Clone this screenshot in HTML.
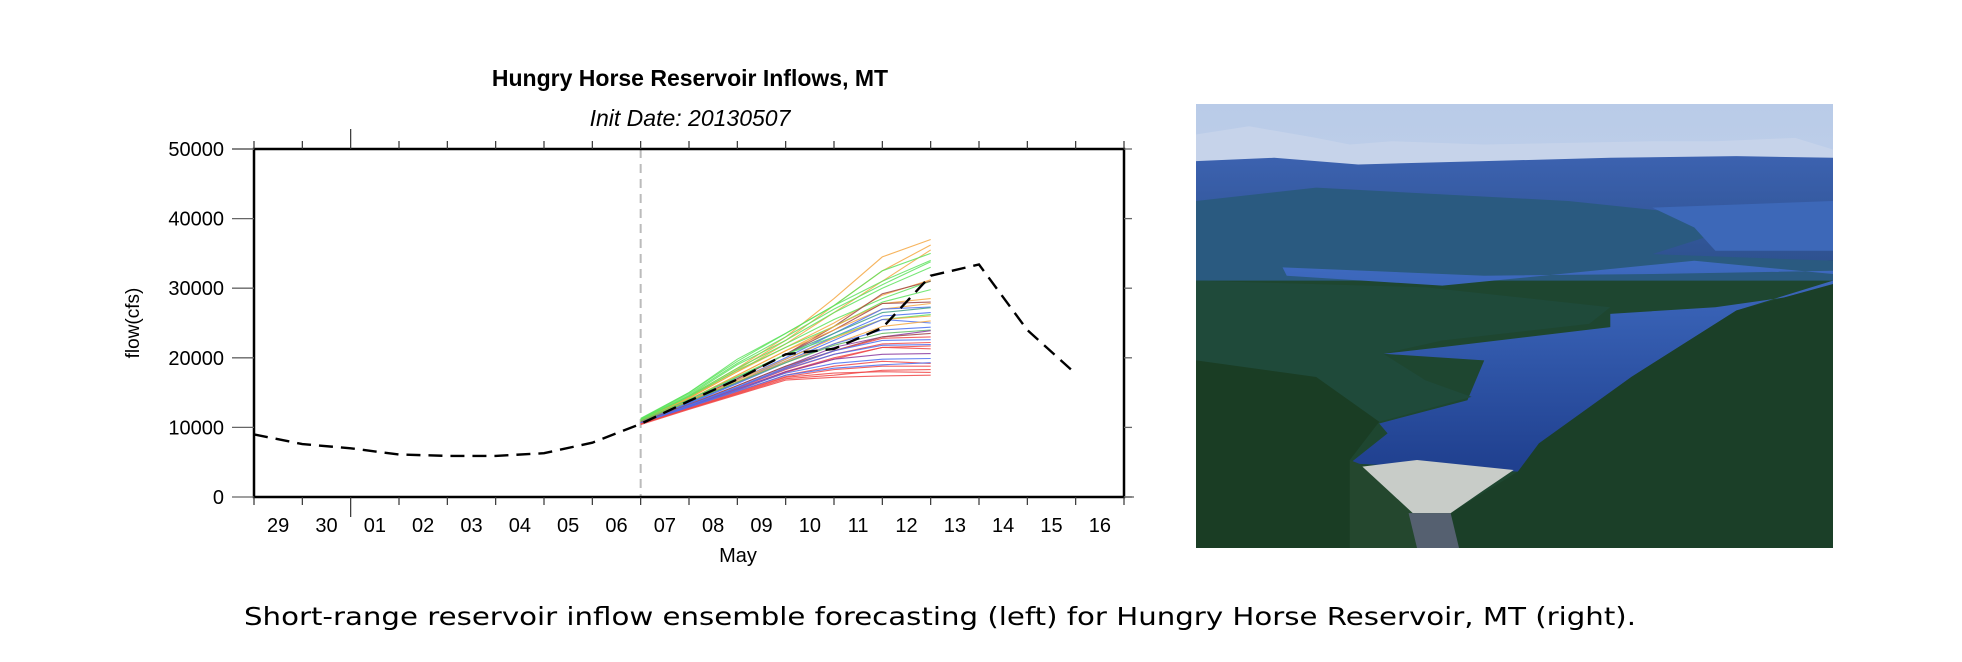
<!DOCTYPE html>
<html><head><meta charset="utf-8">
<style>
html,body{margin:0;padding:0;background:#fff;width:1962px;height:662px;overflow:hidden}
svg{position:absolute;left:0;top:0}
text{font-family:"Liberation Sans",sans-serif}
</style></head>
<body>
<svg id="chart" width="1962" height="662">
  <text x="690" y="86" text-anchor="middle" font-size="23" font-weight="bold">Hungry Horse Reservoir Inflows, MT</text>
  <text x="690" y="126" text-anchor="middle" font-size="23" font-style="italic">Init Date: 20130507</text>
  <text transform="translate(139,323) rotate(-90)" text-anchor="middle" font-size="19">flow(cfs)</text>
  <text x="738" y="562" text-anchor="middle" font-size="20">May</text>
  <g id="grid"></g>
  <g id="ens"></g>
  <g id="obs"></g>
  <g id="axes"></g>
  <text x="940" y="625" text-anchor="middle" font-size="25" textLength="1392" lengthAdjust="spacingAndGlyphs" style="font-family:'DejaVu Sans',sans-serif">Short-range reservoir inflow ensemble forecasting (left) for Hungry Horse Reservoir, MT (right).</text>
</svg>

<svg width="637" height="444" style="left:1196px;top:104px" viewBox="14 28 1516 1337" preserveAspectRatio="none">
  <defs>
    <linearGradient id="sky" x1="0" y1="0" x2="0" y2="1"><stop offset="0" stop-color="#b9cbe8"/><stop offset="1" stop-color="#d8e2f0"/></linearGradient>
    <linearGradient id="far" x1="0" y1="0" x2="0" y2="1"><stop offset="0" stop-color="#3c62b0"/><stop offset="1" stop-color="#2c4f8a"/></linearGradient>
    <linearGradient id="lake" x1="0" y1="0" x2="0" y2="1"><stop offset="0" stop-color="#3f6bc0"/><stop offset="1" stop-color="#1f3f8e"/></linearGradient>
  </defs>
  <rect x="14" y="28" width="1516" height="1337" fill="url(#sky)"/>
  <path d="M14 120 L140 95 L300 130 L380 150 L480 140 L700 150 L900 145 L1100 140 L1250 140 L1440 130 L1530 165 L1530 330 L14 330Z" fill="#c6d3ea"/>
  <path d="M14 200 L200 190 L400 210 L700 200 L1000 190 L1300 185 L1530 190 L1530 560 L14 560Z" fill="url(#far)"/>
  <rect x="14" y="500" width="1516" height="865" fill="#1e4630"/>
  <path d="M14 320 L300 280 L600 300 L900 320 L1200 360 L1250 420 L1100 480 L1530 500 L1530 560 L14 560Z" fill="#2a5a80"/>
  <path d="M220 520 L700 545 L1100 540 L1530 530 L1530 590 L1250 640 L1000 660 L1000 700 L600 760 L460 780 L700 800 L660 920 L450 990 L470 1020 L380 1110 L780 1135 L840 1050 L1050 850 L1300 650 L1530 560 L1530 540 L1200 500 L600 575 L230 545Z" fill="url(#lake)"/>
  <path d="M1100 340 L1530 320 L1530 470 L1250 470 L1200 400Z" fill="#3d68b8"/>
  <path d="M14 560 L560 580 L1000 640 L950 690 L600 740 L460 780 L560 860 L670 910 L450 985 L380 1100 L360 1365 L14 1365Z" fill="#1f4a3a"/>
  <path d="M14 800 L300 850 L450 985 L380 1100 L400 1365 L14 1365Z" fill="#1a3d24"/>
  <path d="M780 1135 L830 1050 L1050 850 L1300 650 L1530 570 L1530 1365 L600 1365 L620 1260Z" fill="#1b3f28"/>
  <path d="M380 1100 L420 1120 L470 1190 L530 1260 L540 1365 L380 1365Z" fill="#24472e"/>
  <path d="M410 1120 L540 1100 L770 1130 L700 1190 L620 1260 L530 1260 L470 1190Z" fill="#c8ccc8"/>
  <path d="M520 1260 L620 1260 L640 1365 L540 1365Z" fill="#556070"/>
</svg>

<script>
const days = ['29','30','01','02','03','04','05','06','07','08','09','10','11','12','13','14','15','16'];
const yTicks = [0,10000,20000,30000,40000,50000];
const yTickLabels = ['0','10000','20000','30000','40000','50000'];
const observed = [9000,7600,7000,6100,5900,5900,6300,7800,10500,13800,16900,20500,21300,24300,31800,33400,24000,17700];
const initIndex = 8;
const monthBoundaryIndex = 2;
const ensColors = ['#f5a742','#f5a742','#f5a742','#5ee35e','#5ee35e','#5ee35e','#5ee35e','#f5a742','#5ee35e','#a04848','#5ee35e','#f5a742','#a04848','#f5a742','#4a6ef0','#3fa08a','#4a6ef0','#5ee35e','#f5a742','#4a6ef0','#f5a742','#4a6ef0','#5fb85f','#8a3aa0','#a04848','#f04848','#4a6ef0','#f04848','#4a6ef0','#f04848','#f04848','#8a3aa0','#4a6ef0','#f04848','#f04848','#4a6ef0','#f04848','#f04848','#f04848'];
const ensMembers = [
[11000,14500,18500,23000,28500,34500,37000],
[11000,14300,18300,22500,27500,32500,36200],
[10900,14200,18000,22000,26500,31000,35500],
[11200,15000,19500,23500,27500,32500,35000],
[11300,15000,19800,23500,27500,31000,34000],
[11200,14800,19200,23000,27000,30500,33800],
[11100,14600,19000,22500,26500,30000,33000],
[11000,14200,18000,21500,25000,29000,31200],
[11200,14500,18500,22000,25500,28500,31000],
[10800,13800,17000,20500,24500,29200,31000],
[11100,14400,18200,21500,24500,28000,29800],
[10900,14000,17500,21000,24500,27800,28500],
[10800,13700,17000,20500,24000,27800,28000],
[10900,14000,17500,21000,24000,27000,27800],
[10700,13600,16800,20000,23500,27000,27300],
[10900,14000,17200,20500,23500,26500,27200],
[10700,13500,16500,19800,23000,26000,26500],
[11000,14000,17300,20500,23000,25500,26200],
[10900,13800,16800,19800,22800,25500,26000],
[10700,13500,16400,19500,22500,25500,25000],
[10900,13700,16600,19500,22000,24500,25300],
[10700,13400,16300,19300,22000,24000,24400],
[10900,13700,16500,19300,21800,23500,24000],
[10600,13200,16000,18800,21500,23000,23900],
[10700,13300,16000,18800,21000,23000,23500],
[10500,13000,15700,18500,21000,22800,23000],
[10600,13200,15800,18600,21000,22500,22600],
[10500,13000,15600,18300,20500,22000,22200],
[10600,13100,15700,18400,20500,21800,21900],
[10500,12900,15400,18000,20000,21500,21700],
[10500,12900,15300,17900,19800,21500,21300],
[10600,13000,15500,18000,19800,20500,20600],
[10600,13000,15400,17800,19200,19800,19900],
[10500,12800,15100,17500,18800,19500,19200],
[10500,12700,15000,17300,18300,18800,18800],
[10600,12900,15200,17500,18500,19000,19300],
[10500,12700,14800,17000,17500,18200,18300],
[10400,12600,14700,16800,17200,17400,17500],
[10500,12700,14900,17200,17800,18000,17900]
];

const NS='http://www.w3.org/2000/svg';
const L=254,R=1124,T=149,B=497;
const yMax=50000;
const nInt=days.length;
function xTick(i){return L+(R-L)*i/nInt;}
function xCenter(i){return L+(R-L)*(i+0.5)/nInt;}
function yPos(v){return B-(B-T)*v/yMax;}
function mk(tag,attrs,parent){const e=document.createElementNS(NS,tag);for(const k in attrs)e.setAttribute(k,attrs[k]);parent.appendChild(e);return e;}

const axes=document.getElementById('axes');
const grid=document.getElementById('grid');
const vl=mk('line',{x1:xTick(initIndex),x2:xTick(initIndex),y1:T,y2:B,stroke:'#bbb','stroke-width':2,'stroke-dasharray':'9,6'},grid);



const ens=document.getElementById('ens');
ensMembers.forEach((m,k)=>{
  const pts=m.map((v,j)=>xTick(initIndex+j).toFixed(1)+','+yPos(v).toFixed(1)).join(' ');
  const p=mk('polyline',{points:pts,fill:'none',stroke:ensColors[k%ensColors.length],'stroke-width':1.1,'stroke-opacity':0.85},ens);
  
  
});
const obs=document.getElementById('obs');
const opts=observed.map((v,i)=>xTick(i).toFixed(1)+','+yPos(v).toFixed(1)).join(' ');
const ol=mk('polyline',{points:opts,fill:'none',stroke:'#000','stroke-width':2.4,'stroke-dasharray':'14,8'},obs);



const fr=mk('rect',{x:L,y:T,width:R-L,height:B-T,fill:'none',stroke:'#000','stroke-width':2.5},axes);


mk('line',{x1:R,x2:R+10,y1:B,y2:B,stroke:'#777','stroke-width':1.5},axes);
mk('line',{x1:L-22,x2:L,y1:T,y2:T,stroke:'#777','stroke-width':1.5},axes);

yTicks.forEach((v,i)=>{
  const y=yPos(v);
  mk('line',{x1:L-22,x2:L,y1:y,y2:y,stroke:'#666','stroke-width':1.3},axes);
  mk('line',{x1:R,x2:R+8,y1:y,y2:y,stroke:'#666','stroke-width':1.3},axes);
  const t=mk('text',{x:L-30,y:y+7,'text-anchor':'end','font-size':20},axes);
  t.textContent=yTickLabels[i];
  
  
});
for(let i=0;i<=nInt;i++){
  const x=xTick(i);
  const long=(i===monthBoundaryIndex);
  mk('line',{x1:x,x2:x,y1:long?T-20:T-8,y2:T,stroke:'#333','stroke-width':1.2},axes);
  mk('line',{x1:x,x2:x,y1:B,y2:long?B+20:B+8,stroke:'#333','stroke-width':1.2},axes);
}
days.forEach((d,i)=>{
  const t=mk('text',{x:xCenter(i),y:532,'text-anchor':'middle','font-size':20},axes);
  t.textContent=d;
  
  
});
</script>
</body></html>
